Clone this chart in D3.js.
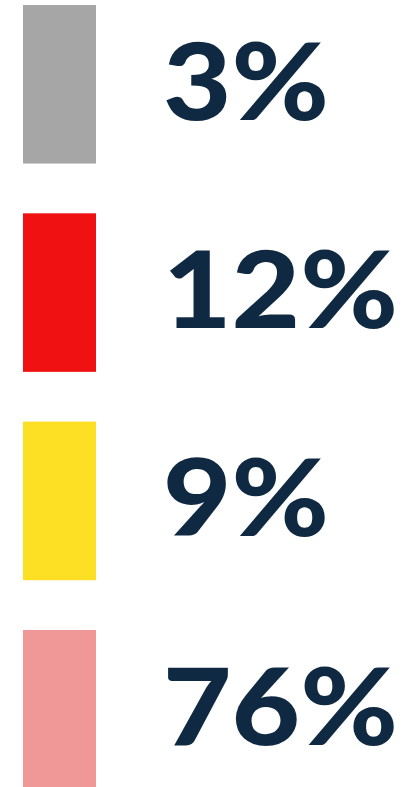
<!DOCTYPE html>
<html>
<head>
<meta charset="utf-8">
<script src="https://cdn.jsdelivr.net/npm/d3@7"></script>
<style>
  html, body { margin: 0; padding: 0; background: #ffffff; }
  svg { display: block; }
</style>
</head>
<body>
<svg id="chart" width="403" height="787"></svg>
<script>
const categories = ["Other", "Red", "Yellow", "Pink"];
const values = [3, 12, 9, 76];
const labels = ["3%", "12%", "9%", "76%"];
const colors = ["#a6a6a6", "#f01212", "#fddf24", "#f09798"];

const svg = d3.select("#chart");

const y = d3.scaleBand()
  .domain(categories)
  .range([5, 788.5])
  .paddingInner(0.239)
  .paddingOuter(0);

const x0 = 23, barW = 73;

const g = svg.selectAll("g.item")
  .data(categories.map((c, i) => ({ c, v: values[i], label: labels[i], color: colors[i] })))
  .join("g")
  .attr("class", "item");

g.append("rect")
  .attr("x", x0)
  .attr("y", d => y(d.c))
  .attr("width", barW)
  .attr("height", y.bandwidth())
  .attr("fill", d => d.color);

const texts = g.append("text")
  .attr("x", 163)
  .attr("y", d => y(d.c) + y.bandwidth() / 2 + 35.5)
  .attr("fill", "#0f2942")
  .attr("font-family", "Lato, 'DejaVu Sans', sans-serif")
  .attr("font-weight", 900)
  .attr("font-size", 107)
  .text(d => d.label);

// fit widths to the reference proportions
texts.each(function(d) {
  const target = d.label.length === 2 ? 166 : 235;
  d3.select(this).attr("textLength", target).attr("lengthAdjust", "spacingAndGlyphs");
});
</script>
</body>
</html>
